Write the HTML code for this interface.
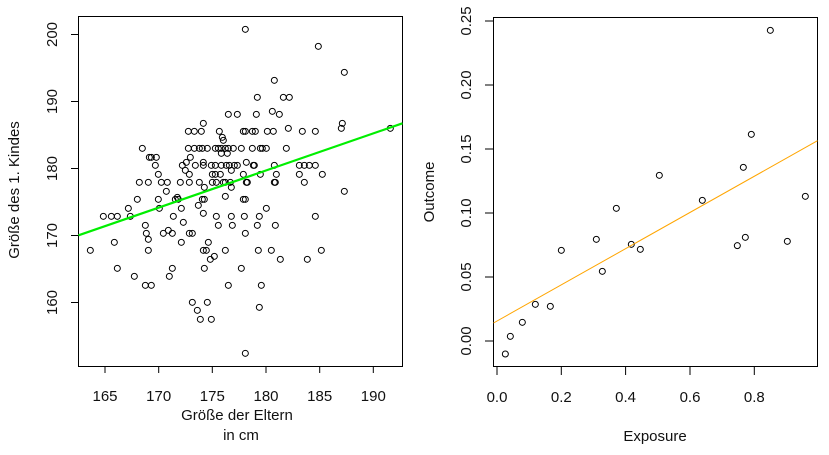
<!DOCTYPE html>
<html><head><meta charset="utf-8"><style>
body{margin:0;background:#fff}
svg text{font-family:"Liberation Sans",Arial,sans-serif;font-size:15px;fill:#111}
</style></head><body>
<svg width="829" height="450" xmlns="http://www.w3.org/2000/svg">
<rect width="829" height="450" fill="#fff"/>
<!-- LEFT -->
<rect x="78.5" y="16.5" width="324" height="350" fill="none" stroke="#000" stroke-width="1"/>
<g stroke="#000" stroke-width="1">
<line x1="105" y1="366" x2="105" y2="373"/><line x1="158.7" y1="366" x2="158.7" y2="373"/><line x1="212.3" y1="366" x2="212.3" y2="373"/><line x1="266" y1="366" x2="266" y2="373"/><line x1="319.7" y1="366" x2="319.7" y2="373"/><line x1="373.3" y1="366" x2="373.3" y2="373"/>
<line x1="71" y1="302.5" x2="78" y2="302.5"/><line x1="71" y1="235.5" x2="78" y2="235.5"/><line x1="71" y1="168.5" x2="78" y2="168.5"/><line x1="71" y1="101.5" x2="78" y2="101.5"/><line x1="71" y1="34.5" x2="78" y2="34.5"/>
</g>
<g text-anchor="middle">
<text x="105" y="401">165</text><text x="158.7" y="401">170</text><text x="212.3" y="401">175</text><text x="266" y="401">180</text><text x="319.7" y="401">185</text><text x="373.3" y="401">190</text>
<text x="237" y="420">Größe der Eltern</text><text x="241" y="440">in cm</text>
<text transform="translate(57,302.5) rotate(-90)">160</text>
<text transform="translate(57,235.5) rotate(-90)">170</text>
<text transform="translate(57,168.5) rotate(-90)">180</text>
<text transform="translate(57,101.5) rotate(-90)">190</text>
<text transform="translate(57,34.5) rotate(-90)">200</text>
<text transform="translate(19,190) rotate(-90)">Größe des 1. Kindes</text>
</g>
<g transform="scale(0.33333)" fill="none" stroke="#000" stroke-width="3">
<circle cx="271" cy="751" r="9"/><circle cx="310" cy="649" r="9"/><circle cx="334" cy="649" r="9"/><circle cx="352" cy="649" r="9"/><circle cx="343" cy="727" r="9"/><circle cx="352" cy="805" r="9"/><circle cx="385" cy="625" r="9"/><circle cx="391" cy="649" r="9"/><circle cx="403" cy="829" r="9"/><circle cx="412" cy="598" r="9"/><circle cx="418" cy="547" r="9"/><circle cx="427" cy="445" r="9"/><circle cx="436" cy="676" r="9"/><circle cx="439" cy="700" r="9"/><circle cx="436" cy="856" r="9"/><circle cx="445" cy="751" r="9"/><circle cx="445" cy="718" r="9"/><circle cx="445" cy="547" r="9"/><circle cx="448" cy="472" r="9"/><circle cx="454" cy="472" r="9"/><circle cx="454" cy="856" r="9"/><circle cx="466" cy="496" r="9"/><circle cx="469" cy="472" r="9"/><circle cx="475" cy="523" r="9"/><circle cx="475" cy="598" r="9"/><circle cx="478" cy="625" r="9"/><circle cx="484" cy="547" r="9"/><circle cx="490" cy="700" r="9"/><circle cx="499" cy="574" r="9"/><circle cx="502" cy="547" r="9"/><circle cx="505" cy="691" r="9"/><circle cx="508" cy="829" r="9"/><circle cx="517" cy="805" r="9"/><circle cx="517" cy="700" r="9"/><circle cx="520" cy="649" r="9"/><circle cx="526" cy="598" r="9"/><circle cx="532" cy="592" r="9"/><circle cx="535" cy="598" r="9"/><circle cx="541" cy="547" r="9"/><circle cx="544" cy="727" r="9"/><circle cx="544" cy="625" r="9"/><circle cx="547" cy="496" r="9"/><circle cx="550" cy="667" r="9"/><circle cx="556" cy="511" r="9"/><circle cx="559" cy="487" r="9"/><circle cx="565" cy="394" r="9"/><circle cx="565" cy="445" r="9"/><circle cx="568" cy="523" r="9"/><circle cx="568" cy="547" r="9"/><circle cx="571" cy="472" r="9"/><circle cx="568" cy="700" r="9"/><circle cx="577" cy="700" r="9"/><circle cx="577" cy="907" r="9"/><circle cx="583" cy="394" r="9"/><circle cx="583" cy="445" r="9"/><circle cx="586" cy="496" r="9"/><circle cx="592" cy="931" r="9"/><circle cx="595" cy="616" r="9"/><circle cx="598" cy="547" r="9"/><circle cx="598" cy="445" r="9"/><circle cx="601" cy="958" r="9"/><circle cx="604" cy="394" r="9"/><circle cx="607" cy="445" r="9"/><circle cx="610" cy="370" r="9"/><circle cx="610" cy="487" r="9"/><circle cx="610" cy="496" r="9"/><circle cx="607" cy="598" r="9"/><circle cx="613" cy="598" r="9"/><circle cx="610" cy="640" r="9"/><circle cx="613" cy="562" r="9"/><circle cx="610" cy="751" r="9"/><circle cx="619" cy="751" r="9"/><circle cx="613" cy="805" r="9"/><circle cx="622" cy="445" r="9"/><circle cx="625" cy="727" r="9"/><circle cx="622" cy="907" r="9"/><circle cx="631" cy="778" r="9"/><circle cx="634" cy="496" r="9"/><circle cx="634" cy="958" r="9"/><circle cx="637" cy="523" r="9"/><circle cx="637" cy="547" r="9"/><circle cx="643" cy="769" r="9"/><circle cx="646" cy="496" r="9"/><circle cx="646" cy="523" r="9"/><circle cx="646" cy="445" r="9"/><circle cx="649" cy="547" r="9"/><circle cx="649" cy="649" r="9"/><circle cx="655" cy="676" r="9"/><circle cx="655" cy="445" r="9"/><circle cx="658" cy="394" r="9"/><circle cx="661" cy="523" r="9"/><circle cx="664" cy="445" r="9"/><circle cx="664" cy="460" r="9"/><circle cx="667" cy="412" r="9"/><circle cx="670" cy="421" r="9"/><circle cx="664" cy="496" r="9"/><circle cx="670" cy="547" r="9"/><circle cx="676" cy="445" r="9"/><circle cx="676" cy="547" r="9"/><circle cx="676" cy="589" r="9"/><circle cx="676" cy="751" r="9"/><circle cx="679" cy="496" r="9"/><circle cx="682" cy="460" r="9"/><circle cx="685" cy="343" r="9"/><circle cx="685" cy="445" r="9"/><circle cx="685" cy="856" r="9"/><circle cx="688" cy="496" r="9"/><circle cx="691" cy="547" r="9"/><circle cx="694" cy="511" r="9"/><circle cx="694" cy="562" r="9"/><circle cx="694" cy="649" r="9"/><circle cx="697" cy="676" r="9"/><circle cx="700" cy="445" r="9"/><circle cx="703" cy="496" r="9"/><circle cx="712" cy="343" r="9"/><circle cx="712" cy="496" r="9"/><circle cx="724" cy="805" r="9"/><circle cx="724" cy="445" r="9"/><circle cx="730" cy="394" r="9"/><circle cx="730" cy="523" r="9"/><circle cx="730" cy="598" r="9"/><circle cx="733" cy="649" r="9"/><circle cx="736" cy="394" r="9"/><circle cx="736" cy="598" r="9"/><circle cx="736" cy="700" r="9"/><circle cx="736" cy="88" r="9"/><circle cx="736" cy="1060" r="9"/><circle cx="739" cy="487" r="9"/><circle cx="739" cy="547" r="9"/><circle cx="742" cy="547" r="9"/><circle cx="757" cy="394" r="9"/><circle cx="757" cy="445" r="9"/><circle cx="760" cy="496" r="9"/><circle cx="763" cy="496" r="9"/><circle cx="766" cy="394" r="9"/><circle cx="769" cy="343" r="9"/><circle cx="772" cy="292" r="9"/><circle cx="772" cy="676" r="9"/><circle cx="775" cy="751" r="9"/><circle cx="778" cy="649" r="9"/><circle cx="781" cy="445" r="9"/><circle cx="781" cy="523" r="9"/><circle cx="784" cy="856" r="9"/><circle cx="778" cy="922" r="9"/><circle cx="787" cy="445" r="9"/><circle cx="799" cy="445" r="9"/><circle cx="799" cy="625" r="9"/><circle cx="802" cy="394" r="9"/><circle cx="814" cy="751" r="9"/><circle cx="817" cy="334" r="9"/><circle cx="820" cy="394" r="9"/><circle cx="823" cy="241" r="9"/><circle cx="823" cy="496" r="9"/><circle cx="823" cy="547" r="9"/><circle cx="826" cy="547" r="9"/><circle cx="826" cy="676" r="9"/><circle cx="829" cy="523" r="9"/><circle cx="838" cy="343" r="9"/><circle cx="841" cy="778" r="9"/><circle cx="850" cy="292" r="9"/><circle cx="859" cy="445" r="9"/><circle cx="865" cy="385" r="9"/><circle cx="868" cy="292" r="9"/><circle cx="898" cy="523" r="9"/><circle cx="898" cy="496" r="9"/><circle cx="907" cy="394" r="9"/><circle cx="913" cy="496" r="9"/><circle cx="913" cy="547" r="9"/><circle cx="922" cy="778" r="9"/><circle cx="928" cy="496" r="9"/><circle cx="946" cy="394" r="9"/><circle cx="946" cy="496" r="9"/><circle cx="946" cy="649" r="9"/><circle cx="955" cy="139" r="9"/><circle cx="964" cy="751" r="9"/><circle cx="967" cy="523" r="9"/><circle cx="1024" cy="385" r="9"/><circle cx="1027" cy="370" r="9"/><circle cx="1033" cy="217" r="9"/><circle cx="1033" cy="574" r="9"/><circle cx="1171" cy="385" r="9"/>
</g>
<line x1="78.5" y1="235.3" x2="402.5" y2="123.3" stroke="#00ee00" stroke-width="2.2"/>
<!-- RIGHT -->
<rect x="493.5" y="17.5" width="324" height="349" fill="none" stroke="#000" stroke-width="1"/>
<g stroke="#000" stroke-width="1">
<line x1="497" y1="367" x2="497" y2="375"/><line x1="561.3" y1="367" x2="561.3" y2="375"/><line x1="625.6" y1="367" x2="625.6" y2="375"/><line x1="690" y1="367" x2="690" y2="375"/><line x1="754.3" y1="367" x2="754.3" y2="375"/>
<line x1="485" y1="341" x2="493" y2="341"/><line x1="485" y1="277" x2="493" y2="277"/><line x1="485" y1="213" x2="493" y2="213"/><line x1="485" y1="149" x2="493" y2="149"/><line x1="485" y1="85" x2="493" y2="85"/><line x1="485" y1="21" x2="493" y2="21"/>
</g>
<g text-anchor="middle">
<text x="497" y="402">0.0</text><text x="561.3" y="402">0.2</text><text x="625.6" y="402">0.4</text><text x="690" y="402">0.6</text><text x="754.3" y="402">0.8</text>
<text x="655" y="441">Exposure</text>
<text transform="translate(471,341) rotate(-90)">0.00</text>
<text transform="translate(471,277) rotate(-90)">0.05</text>
<text transform="translate(471,213) rotate(-90)">0.10</text>
<text transform="translate(471,149) rotate(-90)">0.15</text>
<text transform="translate(471,85) rotate(-90)">0.20</text>
<text transform="translate(471,21) rotate(-90)">0.25</text>
<text transform="translate(434,192) rotate(-90)">Outcome</text>
</g>
<g transform="translate(415,0) scale(0.33333)" fill="none" stroke="#000" stroke-width="3">
<circle cx="271" cy="1062" r="9"/><circle cx="286" cy="1009" r="9"/><circle cx="322" cy="967" r="9"/><circle cx="361" cy="913" r="9"/><circle cx="406" cy="919" r="9"/><circle cx="439" cy="751" r="9"/><circle cx="544" cy="718" r="9"/><circle cx="562" cy="814" r="9"/><circle cx="604" cy="625" r="9"/><circle cx="649" cy="733" r="9"/><circle cx="676" cy="748" r="9"/><circle cx="733" cy="526" r="9"/><circle cx="862" cy="601" r="9"/><circle cx="967" cy="737" r="9"/><circle cx="985" cy="502" r="9"/><circle cx="991" cy="712" r="9"/><circle cx="1009" cy="403" r="9"/><circle cx="1066" cy="91" r="9"/><circle cx="1117" cy="724" r="9"/><circle cx="1171" cy="589" r="9"/>
</g>
<line x1="493.5" y1="323" x2="817.5" y2="140.7" stroke="#ffa500" stroke-width="1"/>
</svg>
</body></html>
